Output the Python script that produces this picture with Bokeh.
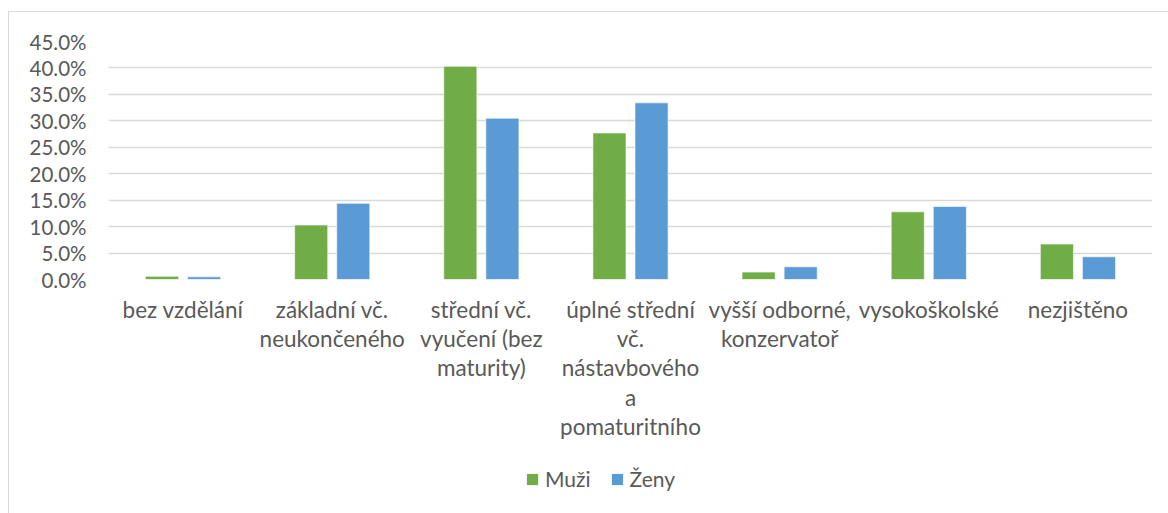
from bokeh.plotting import figure
from bokeh.layouts import column
from bokeh.models import ColumnDataSource, NumeralTickFormatter, FixedTicker, Range1d, Legend, LegendItem
from bokeh.transform import dodge
from bokeh.embed import file_html
from bokeh.resources import INLINE

categories = [
    "bez vzdělání",
    "základní vč.\nneukončeného",
    "střední vč.\nvyučení (bez\nmaturity)",
    "úplné střední\nvč.\nnástavbového\na\npomaturitního",
    "vyšší odborné,\nkonzervatoř",
    "vysokoškolské",
    "nezjištěno",
]
series_names = ["Muži", "Ženy"]
series_colors = ["#70AD47", "#5B9BD5"]
muzi = [0.6, 10.3, 40.3, 27.7, 1.4, 12.8, 6.7]
zeny = [0.5, 14.4, 30.5, 33.4, 2.4, 13.8, 4.3]
y_ticks = [0.0, 0.05, 0.10, 0.15, 0.20, 0.25, 0.30, 0.35, 0.40, 0.45]

src = ColumnDataSource(dict(
    cat=categories,
    muzi=[v / 100 for v in muzi],
    zeny=[v / 100 for v in zeny],
))

FONT = "Lato"
TXT = "#595959"

p = figure(
    x_range=categories, y_range=Range1d(0, 0.45),
    width=1159, height=450,
    min_border_left=99, min_border_right=16, min_border_top=29, min_border_bottom=183,
    output_backend="svg", toolbar_location=None,
)
p.outline_line_color = None
p.background_fill_color = "white"
p.border_fill_color = "white"

p.vbar(x=dodge("cat", -0.141, range=p.x_range), top="muzi", width=0.222, source=src,
       fill_color=series_colors[0], line_color="white", line_alpha=0.6, line_width=1)
p.vbar(x=dodge("cat", 0.141, range=p.x_range), top="zeny", width=0.222, source=src,
       fill_color=series_colors[1], line_color="white", line_alpha=0.6, line_width=1)

p.xgrid.grid_line_color = None
p.ygrid.grid_line_color = "#d9d9d9"
p.ygrid.grid_line_width = 1.3
p.yaxis.ticker = FixedTicker(ticks=y_ticks)
p.yaxis.formatter = NumeralTickFormatter(format="0.0%")

for ax in (p.xaxis, p.yaxis):
    ax.axis_line_color = None
    ax.major_tick_line_color = None
    ax.minor_tick_line_color = None
    ax.major_tick_out = 0
    ax.major_tick_in = 0
    ax.minor_tick_out = 0
    ax.major_label_text_font = FONT
    ax.major_label_text_color = TXT

p.yaxis.major_label_text_font_size = "20.5px"
p.xaxis.major_label_text_font_size = "22.5px"
p.yaxis.major_label_standoff = 22
p.xaxis.major_label_standoff = 16
p.xaxis.major_label_text_line_height = 1.09

# legend strip below the chart
lg = figure(width=1159, height=51, x_range=Range1d(0, 1), y_range=Range1d(0, 1),
            x_axis_location=None, y_axis_location=None,
            min_border_left=0, min_border_right=0, min_border_top=0, min_border_bottom=0,
            output_backend="svg", toolbar_location=None)
lg.grid.visible = False
lg.outline_line_color = None
lg.border_fill_color = "white"
lg.background_fill_color = "white"
items = []
for name, col in zip(series_names, series_colors):
    # swatch-only renderer (zero-height, outside the visible range)
    r = lg.vbar(x=[-5], top=[0], width=0.1, fill_color=col, line_color=None)
    items.append(LegendItem(label=name, renderers=[r]))

legend = Legend(
    items=items, orientation="horizontal", location=(417, 22),
    glyph_width=14, glyph_height=14, label_standoff=6, spacing=19,
    label_text_font=FONT, label_text_font_size="21px", label_text_color=TXT,
    border_line_color=None, background_fill_alpha=0, padding=4, margin=0,
)
lg.add_layout(legend, "center")

layout = column(p, lg, spacing=0,
                styles={"margin-left": "8px", "margin-top": "11px",
                        "border-top": "1px solid #d9d9d9", "border-left": "1px solid #d9d9d9"})

open("out.html", "w").write(file_html(layout, INLINE))
